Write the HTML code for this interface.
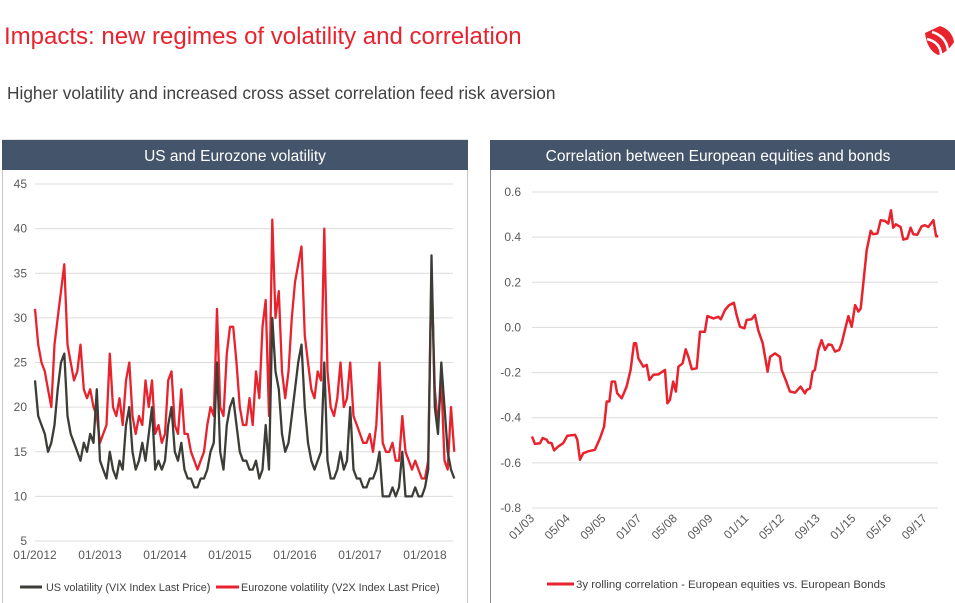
<!DOCTYPE html>
<html><head><meta charset="utf-8">
<style>
body{margin:0;width:955px;height:603px;background:#fff;font-family:"Liberation Sans",Arial,sans-serif;overflow:hidden;position:relative}
.title{position:absolute;left:4px;top:23px;font-size:24px;color:#e8232e;white-space:nowrap}
.sub{position:absolute;left:7px;top:83px;font-size:17.3px;color:#404040;white-space:nowrap}
svg{position:absolute;left:0;top:0}
text{font-family:"Liberation Sans",Arial,sans-serif}
</style></head>
<body>
<div class="title">Impacts: new regimes of volatility and correlation</div>
<div class="sub">Higher volatility and increased cross asset correlation feed risk aversion</div>
<svg width="955" height="603" id="s">
  <g>
    <path d="M925 33 L940 26 Q952 30 954 42 Q948 52 938 55 Q927 50 925 33Z" fill="#e8232e"/>
    <path d="M932 32 Q946 36 948 50" stroke="#fff" stroke-width="2.5" fill="none"/>
    <path d="M927 39 Q940 42 941 54" stroke="#fff" stroke-width="2.5" fill="none"/>
  </g>
  <rect x="2.5" y="140" width="465" height="470" fill="none" stroke="#c8c8c8"/>
  <rect x="2" y="140" width="466" height="30" fill="#44546a"/>
  <text x="235" y="161" fill="#fff" font-size="15.5" text-anchor="middle">US and Eurozone volatility</text>
  <line x1="490.5" y1="140" x2="490.5" y2="603" stroke="#8a8a8a"/>
  <rect x="490" y="140" width="465" height="30" fill="#44546a"/>
  <text x="718" y="161" fill="#fff" font-size="15.5" text-anchor="middle">Correlation between European equities and bonds</text>
  <g id="left"></g>
  <g id="right"></g>
</svg>
<script>
// Left chart data (time step 0.05 yr from 2012.0)
const volStart = 2012.0;
const volStep = 0.05;
const vixValues = [23,19,18,17,15,16,18,22,25,26,19,17,16,15,14,16,15,17,16,22,14,13,12,15,13,12,14,13,18,20,15,13,14,16,14,17,20,13,14,13,14,18,20,15,14,16,13,12,12,11,11,12,12,13,15,16,25,15,13,18,20,21,18,15,14,14,13,13,14,12,13,18,13,30,24,22,17,15,16,19,22,25,27,20,16,14,13,14,15,25,14,12,12,13,15,13,14,20,13,12,12,11,11,12,12,13,15,10,10,10,11,10,11,15,10,10,10,11,10,10,11,13,37,20,17,25,20,15,13,12];
const v2xValues = [31,27,25,24,22,20,27,30,33,36,27,25,23,24,27,22,21,22,20,19,16,17,18,26,20,19,21,18,23,25,19,17,19,18,23,20,23,17,18,16,17,23,24,18,17,22,17,17,15,14,13,14,15,18,20,19,31,20,19,26,29,29,25,20,18,18,21,18,24,21,29,32,19,41,30,33,24,21,24,30,34,36,38,28,25,22,21,24,23,40,24,20,19,21,25,20,21,25,19,18,17,16,16,17,15,18,25,16,15,15,16,14,14,19,15,14,13,14,13,12,12,14,35,22,18,23,14,13,20,15];
const volTicks = [5,10,15,20,25,30,35,40,45];
const volXLabels = ["01/2012","01/2013","01/2014","01/2015","01/2016","01/2017","01/2018"];
// Right chart data (months since 01/2003)
const corrMonths = [0,1.3,3.6,4.8,6.6,7.3,8.8,9.9,11.8,14,15.8,19.3,20.3,21.5,23,25.2,28.2,30.5,32.3,33.5,34.7,35.7,37.2,38.2,40.2,42.4,44.2,45.7,46.6,47.7,49.9,51.4,52.6,54.4,56.6,59.6,60.7,61.8,63.3,64.5,65.6,67.5,68.9,70.1,71.6,73.8,75.3,77.5,78.6,81.3,83.5,84.6,86.5,88.4,90.5,91.7,93.2,95.2,96.2,98.4,99.9,101.4,103.4,105.6,106.7,108.9,111.1,111.9,113.4,115.6,117.9,120.4,122.3,123.1,124.6,125.8,126.8,128.3,129.8,131.3,132.8,134.3,135.8,137.7,138.8,140.3,141.8,143.3,144.8,146.3,147.3,148.5,150,151.8,152.9,154.8,156.3,158.2,159.7,160.9,161.9,163.1,165.2,166.4,168.2,169.7,170.9,172.7,174.6,176.1,177.6,179.9,181.1,182.1];
const corrValues = [-0.483,-0.516,-0.513,-0.49,-0.498,-0.51,-0.513,-0.545,-0.527,-0.513,-0.48,-0.476,-0.498,-0.586,-0.557,-0.549,-0.542,-0.49,-0.439,-0.328,-0.328,-0.24,-0.24,-0.292,-0.314,-0.262,-0.188,-0.07,-0.07,-0.137,-0.174,-0.166,-0.233,-0.21,-0.208,-0.188,-0.336,-0.321,-0.24,-0.284,-0.174,-0.159,-0.097,-0.13,-0.185,-0.181,-0.019,-0.019,0.05,0.04,0.047,0.036,0.077,0.099,0.109,0.055,0.003,-0.004,0.033,0.036,0.055,-0.012,-0.07,-0.196,-0.13,-0.115,-0.13,-0.188,-0.225,-0.284,-0.289,-0.262,-0.292,-0.277,-0.27,-0.196,-0.188,-0.1,-0.056,-0.1,-0.075,-0.078,-0.107,-0.1,-0.07,-0.009,0.05,0.003,0.099,0.07,0.084,0.195,0.342,0.428,0.413,0.416,0.475,0.472,0.46,0.519,0.442,0.457,0.445,0.389,0.394,0.442,0.413,0.411,0.448,0.453,0.445,0.475,0.404,0.404];
const corrTicks = [-0.8,-0.6,-0.4,-0.2,0.0,0.2,0.4,0.6];
const corrXLabels = ["01/03","05/04","09/05","01/07","05/08","09/09","01/11","05/12","09/13","01/15","05/16","09/17"];

const NS="http://www.w3.org/2000/svg";
function mk(tag,attrs,parent){const e=document.createElementNS(NS,tag);for(const k in attrs)e.setAttribute(k,attrs[k]);parent.appendChild(e);return e;}

// Left
const L=document.getElementById('left');
const lx=t=>35+(t-2012)*65;
const ly=v=>541-(v-5)*(357/40);
volTicks.forEach(v=>{
  const g=mk('line',{x1:35,x2:453,y1:ly(v),y2:ly(v),stroke:'#dcdcdc','stroke-width':1},L);
  
  
  const t=mk('text',{x:27,y:ly(v)+4,'text-anchor':'end','font-size':12,fill:'#595959'},L);
  t.textContent=v;
  
  
});
volXLabels.forEach((s,i)=>{
  const t=mk('text',{x:lx(2012+i),y:559,'text-anchor':'middle','font-size':12,fill:'#595959'},L);
  t.textContent=s;
  
  
});
function linePath(vals,fx,fy,times){return vals.map((v,i)=>(i?'L':'M')+fx(times?times[i]:volStart+i*volStep).toFixed(1)+' '+fy(v).toFixed(1)).join(' ');}
const pv2x=mk('path',{d:linePath(v2xValues,lx,ly),fill:'none',stroke:'#e8232e','stroke-width':2.3,'stroke-linejoin':'round'},L);


const pvix=mk('path',{d:linePath(vixValues,lx,ly),fill:'none',stroke:'#3d3d38','stroke-width':2.3,'stroke-linejoin':'round'},L);


const lg1=mk('line',{x1:20,x2:42,y1:587,y2:587,stroke:'#3d3d38','stroke-width':3},L);


const lt1=mk('text',{x:46,y:591,'font-size':10.8,fill:'#404040'},L);
lt1.textContent='US volatility (VIX Index Last Price)';


const lg2=mk('line',{x1:216,x2:239,y1:587,y2:587,stroke:'#e8232e','stroke-width':3},L);


const lt2=mk('text',{x:241,y:591,'font-size':10.8,fill:'#404040'},L);
lt2.textContent='Eurozone volatility (V2X Index Last Price)';



// Right
const R=document.getElementById('right');
const rx=m=>532+m*(35.7/16);
const ry=v=>192+(0.6-v)*(316/1.4);
corrTicks.forEach(v=>{
  const g=mk('line',{x1:532,x2:938,y1:ry(v),y2:ry(v),stroke:'#dcdcdc','stroke-width':1},R);
  
  
  const t=mk('text',{x:521,y:ry(v)+4,'text-anchor':'end','font-size':12,fill:'#595959'},R);
  t.textContent=v.toFixed(1);
  
  
});
corrXLabels.forEach((s,i)=>{
  const x=rx(i*16)+3,y=519;
  const t=mk('text',{x:x,y:y,'text-anchor':'end','font-size':12,fill:'#595959',transform:`rotate(-45 ${x} ${y})`},R);
  t.textContent=s;
  
  
});
const pc=mk('path',{d:corrValues.map((v,i)=>(i?'L':'M')+rx(corrMonths[i]).toFixed(1)+' '+ry(v).toFixed(1)).join(' '),fill:'none',stroke:'#e8232e','stroke-width':2.5,'stroke-linejoin':'round'},R);


const lg3=mk('line',{x1:547,x2:574,y1:584,y2:584,stroke:'#e8232e','stroke-width':3},R);


const lt3=mk('text',{x:576,y:588,'font-size':11.4,fill:'#404040'},R);
lt3.textContent='3y rolling correlation - European equities vs. European Bonds';


</script>
</body></html>
